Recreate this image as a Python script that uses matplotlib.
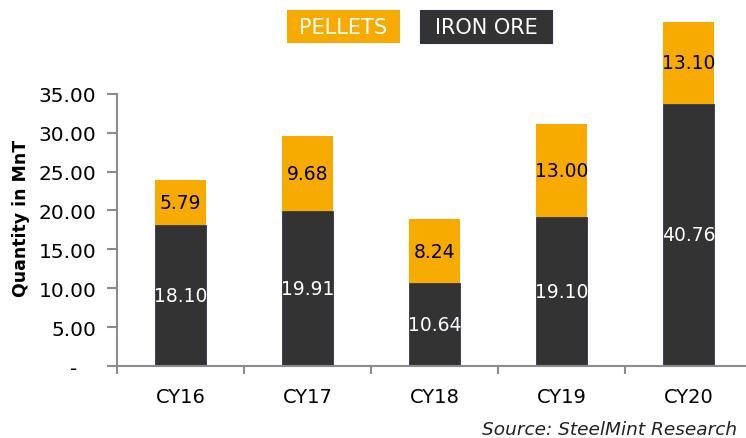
import matplotlib
matplotlib.use('Agg')
import matplotlib.pyplot as plt
from matplotlib.patches import Rectangle

# datos del grafico
years = ['CY16', 'CY17', 'CY18', 'CY19', 'CY20']
iron_ore = [18.10, 19.91, 10.64, 19.10, 40.76]
pellets = [5.79, 9.68, 8.24, 13.00, 13.10]
# alturas tal como aparecen en el grafico original (CY19 y CY20 no van a escala)
iron_ore_drawn = [18.10, 19.91, 10.64, 19.10, 33.7]
pellets_drawn = [5.79, 9.68, 8.24, 12.0, 10.6]
y_ticks = [0, 5, 10, 15, 20, 25, 30, 35]

ORANGE = '#F7AA00'
DARK = '#333333'
GREY = '#8c8c8c'

plt.rcParams['font.family'] = ['DejaVu Sans']

fig = plt.figure(figsize=(7.46, 4.39), dpi=100)
ax = fig.add_axes([0.157, 0.164, 0.851, 0.836])

x = list(range(len(years)))
ax.bar(x, iron_ore_drawn, width=0.4, color=DARK, edgecolor='#2e3350', linewidth=0.6)
ax.bar(x, pellets_drawn, width=0.4, bottom=iron_ore_drawn, color=ORANGE)

for i in x:
    ax.text(i, iron_ore_drawn[i] / 2, f'{iron_ore[i]:.2f}', ha='center', va='center',
            color='white', fontsize=13.5)
    ax.text(i, iron_ore_drawn[i] + pellets_drawn[i] / 2, f'{pellets[i]:.2f}',
            ha='center', va='center', color='black', fontsize=13.5)

ax.set_xlim(-0.5, 4.5)
ax.set_ylim(0, 47.2)

for s in ['top', 'right']:
    ax.spines[s].set_visible(False)
ax.spines['left'].set_bounds(0, 35)
for s in ['left', 'bottom']:
    ax.spines[s].set_color(GREY)
    ax.spines[s].set_linewidth(1.5)

ax.set_yticks(y_ticks)
# formato contable: el cero sale como guion
ax.set_yticklabels(['-   '] + [f'{v:.2f}' for v in y_ticks[1:]], fontsize=14.5)
ax.tick_params(axis='y', length=7, width=1.5, color=GREY, pad=8)

ax.set_xticks(x)
ax.set_xticklabels(years, fontsize=14)
ax.set_xticks([i - 0.5 for i in x] + [4.5], minor=True)
ax.tick_params(axis='x', which='major', length=0, pad=15)
ax.tick_params(axis='x', which='minor', length=6, width=1.5, color=GREY)

fig.text(0.028, 0.503, 'Quantity in MnT', rotation=90, ha='center', va='center',
         fontsize=12.5, fontweight='bold')

# leyenda hecha a mano
fig.add_artist(Rectangle((0.3847, 0.9), 0.1515, 0.075, transform=fig.transFigure,
                         fc=ORANGE, ec='none'))
fig.add_artist(Rectangle((0.563, 0.9), 0.177, 0.075, transform=fig.transFigure,
                         fc=DARK, ec='#2e3350', lw=0.8))
fig.text(0.4605, 0.937, 'PELLETS', ha='center', va='center', color='white', fontsize=15)
fig.text(0.6515, 0.937, 'IRON ORE', ha='center', va='center', color='white', fontsize=15)

fig.text(0.988, 0.0205, 'Source: SteelMint Research', ha='right', va='center',
         fontsize=13.3, style='italic', color='#222222')

fig.savefig('out.png', dpi=100)
